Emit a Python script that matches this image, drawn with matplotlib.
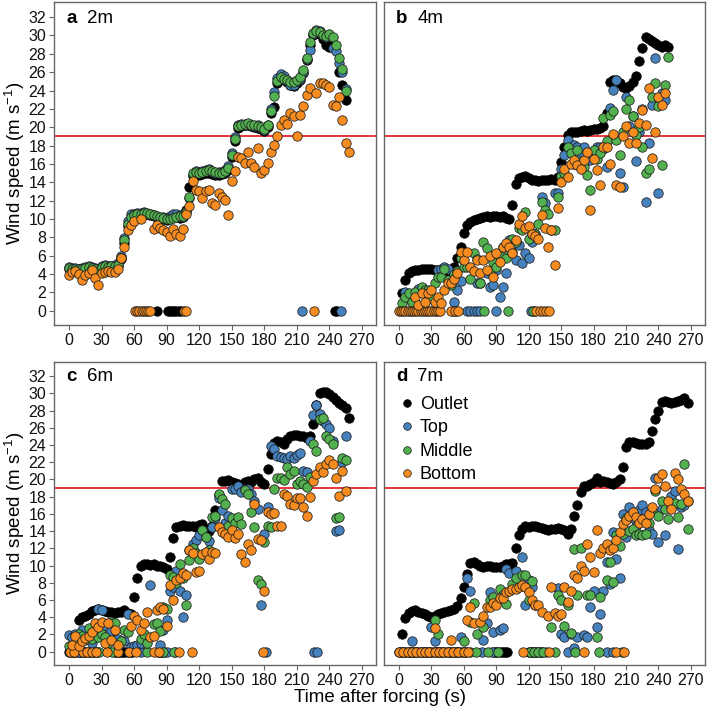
import numpy as np
import matplotlib
matplotlib.use("Agg")
import matplotlib.pyplot as plt
from matplotlib.lines import Line2D

plt.rcParams['font.family'] = ['Liberation Sans', 'DejaVu Sans']
plt.rcParams['mathtext.fontset'] = 'custom'
plt.rcParams['mathtext.rm'] = 'Liberation Sans'
plt.rcParams['mathtext.it'] = 'Liberation Sans:italic'
plt.rcParams['mathtext.bf'] = 'Liberation Sans:bold'

# ---------------- data ----------------
series_names = ['Outlet', 'Top', 'Middle', 'Bottom']
series_colors = ['#000000', '#4682be', '#52b04e', '#f68b1f']
panel_letters = ['a', 'b', 'c', 'd']
panel_heights = ['2m', '4m', '6m', '7m']
x_ticks = [0, 30, 60, 90, 120, 150, 180, 210, 240, 270]
y_ticks = [0, 2, 4, 6, 8, 10, 12, 14, 16, 18, 20, 22, 24, 26, 28, 30, 32]
threshold = 19
sample_step = 3  # seconds between samples in the value lists

# Panel a (2 m)
a_outlet = [4.5, 4.5, 4.4, 4.4, 4.5, 4.6, 4.7, 4.6, 4.5, 4.4,
            4.6, 4.8, 4.7, 4.8, 4.8, 4.9, 5.6, 7.4, 9.2, 10.0,
            10.2, 10.3, 10.5, 10.5, 10.5, 10.4, 10.3, None, 10.1, 10.0,
            9.9, None, None, None, 10.1, 10.2, 11.0, 13.5, 14.7, 14.9,
            14.8, 14.9, 15.0, 15.0, 14.9, 14.8, 14.8, 14.9, 15.0, 15.3,
            16.8, 18.5, 19.9, 20.1, 20.2, 20.3, 20.1, 20.0, 19.9, 19.8,
            19.6, 20.0, 21.6, 22.2, 24.8, 25.3, 25.1, 24.9, 24.6, 24.5,
            24.8, 25.2, 25.9, 27.3, 29.0, 30.0, 30.3, 30.2, 29.6, 29.0,
            28.8, 29.0, None, 26.0, 24.6, 23.0, None]
a_top = [4.8, 4.7, 4.7, 4.6, 4.7, 4.8, 4.9, 4.8, 4.7, 4.5,
         4.9, 5.0, 4.9, 4.9, 5.0, 5.2, 6.0, 7.9, 9.8, 10.5,
         10.6, 10.7, 10.7, 10.8, 10.6, 10.5, 10.4, 10.2, 10.1, 10.2,
         10.1, 10.3, 10.5, 10.6, 10.4, 10.2, 10.9, 12.3, 14.8, 15.2,
         15.1, 15.2, 15.3, 15.4, 15.1, 15.0, 15.1, 15.1, 15.3, 15.8,
         17.2, 18.9, 20.2, 20.4, 20.3, 20.4, 20.2, 20.1, 20.2, 19.9,
         19.7, 20.3, 22.0, 23.8, 25.4, 25.8, 25.6, 25.0, 24.6, 24.6,
         25.0, 25.3, 26.0, 27.4, 28.4, 30.2, 30.6, 30.5, 30.0, 29.8,
         29.9, 28.6, 28.3, 27.0, 26.0, 24.2, None]
a_middle = [4.7, 4.6, 4.6, 4.5, 4.6, 4.7, 4.8, 4.7, 4.6, 4.3,
            4.8, 4.9, 4.8, 4.9, 4.9, 5.0, 5.8, 7.7, 9.5, 10.2,
            10.4, 10.5, 10.6, 10.7, 10.7, 10.6, 10.4, 10.3, 10.2, 10.1,
            10.0, 10.0, 10.1, 10.2, 10.3, 10.3, 10.8, 12.4, 15.0, 15.1,
            15.0, 15.1, 15.2, 15.3, 15.2, 15.1, 15.0, 15.0, 15.2, 15.6,
            17.0, 18.7, 20.1, 20.3, 20.4, 20.5, 20.3, 20.2, 20.1, 20.0,
            19.8, 20.2, 21.8, 23.4, 25.0, 25.5, 25.3, 25.2, 24.9, 24.9,
            25.1, 25.5, 26.2, 27.5, 29.3, 30.3, 30.5, 30.4, 30.1, 29.9,
            30.2, 29.8, 29.0, 27.6, 26.3, 24.0, None]
a_bottom = [3.9, 4.2, 4.3, 4.0, 3.3, 3.9, 4.1, 4.4, 3.6, 2.8,
            4.1, 4.2, 4.3, 4.2, 4.2, 4.5, 5.8, 7.0, 8.8, 9.4,
            9.8, None, 10.0, None, None, None, 8.9, 9.4, 9.0, 8.8,
            8.6, 8.1, 8.9, 8.4, 8.1, 8.9, 10.6, 11.4, 14.1, 13.2,
            13.1, 12.3, 13.0, 13.2, 11.7, 11.5, 12.8, 12.4, 12.1, 10.4,
            14.1, 15.2, 16.8, 16.6, 16.1, 17.3, 16.1, 15.7, 17.7, 15.0,
            15.3, 16.1, 17.3, 18.1, 19.0, 20.3, 20.8, 20.4, 21.5, 21.2,
            19.0, 21.3, 22.3, 23.5, 24.3, None, 23.7, 24.8, 24.8, 24.6,
            24.4, 22.4, 22.3, 23.3, 20.8, 18.3, 17.3]
a_outlet_zero = [81, 91, 93, 95, 97, 99, 101, 103, 245, 247]
a_top_zero = [215, 251]
a_middle_zero = []
a_bottom_zero = [61, 63, 65, 67, 69, 71, 73, 75, 106, 108, 226]

# Panel b (4 m)
b_outlet = [None, 1.9, 3.3, 4.1, 4.3, 4.4, 4.4, 4.5, 4.6, 4.6,
            4.5, 4.4, 4.4, 4.3, 4.1, 3.9, 3.9, 4.8, 5.8, 7.0,
            8.5, 9.3, 9.7, 9.9, 10.0, 10.1, 10.2, 10.3, 10.2, 10.3,
            10.3, 10.2, 10.3, 10.1, 10.0, 11.5, 13.8, 14.5, 14.6, 14.7,
            14.5, 14.3, 14.2, 14.1, 14.3, 14.2, 14.3, 14.4, 14.3, 14.6,
            16.2, 17.9, 19.2, 19.5, 19.5, 19.5, 19.6, 19.7, 19.6, 19.7,
            19.8, 19.8, 19.9, 20.1, 21.5, 24.9, 25.2, 25.2, 24.8, 24.4,
            24.3, 24.5, 24.9, 25.6, 27.2, 28.6, 29.8, 29.6, 29.4, 29.2,
            29.0, 28.8, 29.0, 28.7]
b_top = [None, None, 2.1, 1.3, 1.5, 0.8, 2.4, 2.4, 1.9, 1.3,
         None, 1.2, 4.4, 4.6, 4.8, 4.6, None, 1.0, 2.3, 3.2,
         None, None, None, None, 3.0, 3.0, None, 4.1, 2.6, 2.8,
         4.4, 1.5, 2.6, 4.1, 7.7, 6.4, 5.5, 7.2, 5.2, 6.3,
         5.7, 7.5, 8.4, None, 12.4, 11.7, None, None, 12.8, 12.8,
         15.5, 17.0, 18.6, 17.5, 18.1, 17.9, 16.8, 17.9, 16.4, 16.4,
         17.0, 17.9, 17.9, 17.6, 15.7, 22.1, 24.1, 25.2, 15.0, 13.5,
         23.3, 20.1, 21.2, 16.3, 19.5, 22.0, 11.9, 18.3, 22.4, 27.5,
         12.8, 23.7, 23.0, None]
b_middle = [None, 0.8, 1.5, 1.9, 1.0, 2.0, None, 2.6, 2.3, 2.3,
            1.4, 3.0, 3.7, 3.7, 4.5, 3.3, 2.8, 4.0, 4.3, 5.8,
            4.8, 4.8, 3.5, 6.3, 5.6, 3.0, 7.5, 6.8, 4.3, 5.3,
            4.8, 6.0, 7.0, 5.8, 6.6, 7.8, 7.5, 9.0, 8.8, 10.8,
            7.8, 8.4, 8.4, 9.5, 11.9, 11.0, 10.6, 8.8, 8.8, 12.4,
            14.7, 15.0, 17.9, 17.2, 16.0, 17.5, 16.3, 15.7, 14.8, 13.2,
            17.5, 16.5, 17.2, 21.0, 18.5, 21.3, 21.8, 18.6, 17.0, 19.5,
            22.0, 23.0, 21.2, 19.2, 20.0, 17.9, 15.0, 15.4, 23.3, 24.8,
            22.3, 15.9, 24.6, 27.7]
b_bottom = [None, None, None, None, None, 1.5, 0.6, 1.9, 1.0, 1.9,
            2.3, 1.0, 1.5, 0.8, 2.3, 3.0, 3.0, 3.5, 4.1, 6.4,
            5.5, 6.4, 4.8, 4.3, 5.5, 4.1, 5.5, 4.4, 6.0, 3.7,
            6.3, 5.3, 6.9, 7.4, 7.0, 6.3, 7.7, 9.5, 10.3, 9.0,
            9.2, 8.4, 8.1, 7.8, 10.4, 9.0, 7.0, 8.8, 5.0, 11.2,
            14.0, 15.5, 14.6, 16.0, 16.4, 15.9, 15.4, 16.4, 17.3, 11.0,
            16.5, 15.3, 13.7, 17.9, 17.9, 16.0, 19.3, 13.7, 13.5, 19.0,
            20.1, 18.3, 19.5, 18.3, 20.5, 21.9, 20.3, 24.3, 16.6, 19.5,
            23.3, 22.4, 23.7, None]
b_outlet_zero = []
b_top_zero = [63, 66, 69, 72, 75, 90, 122, 125]
b_middle_zero = [50, 53, 79, 101, 124]
b_bottom_zero = [0, 2, 4, 6, 8, 10, 12, 14, 16, 18, 20, 22, 24, 26, 28,
                 30, 32, 34, 36, 38, 48, 52, 55, 127, 130, 133, 136, 139]

# Panel c (6 m)
c_outlet = [None, None, None, 3.7, 4.0, 4.2, 4.4, 4.7, 4.8, 4.9,
            4.8, 4.7, 4.6, 4.6, 4.5, 4.6, 4.6, 4.8, 4.5, 4.4,
            6.3, 8.5, 10.0, 10.2, 10.2, 10.1, 10.2, 10.0, 9.9, 9.8,
            9.6, 11.0, 13.2, 14.5, 14.6, 14.7, 14.6, 14.6, 14.6, 14.5,
            14.7, 14.8, 14.2, 14.0, 14.6, 16.5, 18.2, 19.8, 19.8, 19.9,
            19.7, 19.6, 19.5, 19.4, 19.7, 19.8, 19.7, 20.0, 20.2, 19.7,
            19.5, 21.2, 23.0, 24.2, 24.5, 24.3, 24.1, 24.7, 25.0, 25.2,
            25.2, 25.1, 25.0, 24.8, 25.0, 26.5, 28.7, 30.1, 30.2, 30.2,
            29.9, 29.6, 29.2, 28.9, 28.6, 28.3, 27.2]
c_top = [1.9, 1.7, 2.1, 1.0, 2.5, 1.5, None, 1.0, 2.0, 5.0,
         4.8, 3.0, 1.4, 2.4, 1.3, 1.5, None, 1.2, 4.4, 0.5,
         0.6, 0.8, 1.0, None, 1.6, 7.7, None, None, 0.8, 2.5,
         3.7, 7.1, 7.5, 9.4, 7.1, 4.0, 6.6, 11.8, 12.5, 13.0,
         13.5, 14.1, 13.3, 12.8, 14.5, 15.5, 17.9, 16.5, 15.0, 15.8,
         18.9, 18.9, 19.3, 18.5, 18.9, 18.9, 18.3, 17.5, 16.6, 5.4,
         13.7, 16.8, 23.9, 23.5, 22.7, 22.6, 22.5, 22.4, 22.7, 22.5,
         22.9, 23.1, 21.0, 20.9, 24.5, 27.5, 28.7, 27.6, 26.8, 26.4,
         26.0, 24.5, 14.0, 14.1, 22.0, 25.0, None]
c_middle = [0.6, None, 1.0, 2.0, 1.8, 1.3, 2.8, 1.5, 2.4, 1.7,
            2.1, 1.7, 1.0, 3.5, 3.3, None, 1.2, 2.5, 2.3, None,
            None, None, 1.5, 2.0, 1.0, None, 3.2, 3.3, 2.4, 5.2,
            5.0, 8.9, 8.7, 8.0, 10.2, 8.5, 5.4, 10.6, 12.1, 11.5,
            10.8, 14.1, 13.3, 11.8, 15.6, 15.8, 18.3, 17.7, 17.1, 14.6,
            15.5, 15.0, 15.6, 14.8, 18.8, 18.3, 16.2, 14.5, 8.3, 7.9,
            12.7, 14.6, 14.5, 18.9, 20.2, 20.2, 19.9, 21.4, 20.6, 21.0,
            19.5, 19.8, 19.5, 19.1, 20.3, 24.1, 23.3, 27.0, 27.2, 25.0,
            24.7, 24.1, 15.5, 15.6, 22.5, 22.3, None]
c_bottom = [None, 0.8, 1.8, 0.6, 1.2, 1.6, 1.8, 2.3, 3.3, 2.9,
            3.4, 1.0, 3.3, 1.3, 2.5, 0.8, None, None, None, 3.0,
            4.2, 3.7, 2.5, 3.3, 4.6, 1.7, 1.8, 4.8, 5.2, 5.0,
            3.0, 7.7, 6.0, 8.3, 8.5, 9.1, 8.9, 11.8, 11.5, 9.2,
            9.4, 11.4, 11.6, 10.8, 11.6, 11.5, 14.5, 13.9, 13.7, 13.3,
            14.1, 13.2, 13.7, 11.3, 10.4, 12.5, 11.8, 17.1, 13.1, 13.0,
            7.1, 16.2, 16.0, 16.1, 14.6, 14.6, 18.3, 18.1, 17.2, 17.0,
            17.9, 17.9, 16.8, 15.8, 18.0, 19.8, 20.6, 21.4, 20.9, 21.8,
            22.3, 21.8, 20.2, 18.1, 21.0, 18.7, None]
c_outlet_zero = [0, 2, 4, 6, 8, 10, 12, 14, 16, 18, 20, 22, 24, 26,
                 42, 44, 46, 48, 50, 52, 54, 56, 58, 82, 84, 86, 88]
c_top_zero = [9, 66, 90, 98, 182, 226, 229]
c_middle_zero = [3, 28, 40, 72, 87, 97]
c_bottom_zero = [1, 5, 13, 17, 21, 25, 35, 45, 55, 62, 78, 83, 101, 113, 179]

# Panel d (7 m)
d_outlet = [None, 2.1, 3.9, 4.5, 4.7, 4.8, 4.6, 4.5, 4.4, 4.2,
            4.0, 4.1, 4.4, 4.5, 4.6, 4.7, 4.8, 5.0, 5.3, 6.2,
            7.5, 9.0, 10.3, 10.4, 10.2, 10.0, 9.8, 9.9, 10.0, 9.8,
            9.8, 9.8, 10.0, 10.2, 10.2, 10.3, 12.0, 13.5, 14.3, 14.6,
            14.5, 14.6, 14.6, 14.5, 14.4, 14.3, 14.1, 14.2, 14.3, 14.4,
            14.2, 14.1, 13.7, 14.2, 15.8, 17.0, 18.5, 19.3, 19.3, 19.5,
            19.7, 20.2, 19.7, 19.8, 19.7, 19.6, 19.5, 19.7, 20.0, 21.5,
            23.8, 24.3, 24.3, 24.2, 24.1, 24.1, 24.1, 24.4, 25.6, 27.0,
            28.0, 29.0, 29.1, 29.0, 28.9, 29.0, 29.1, 29.2, 29.5, 28.9]
d_top = [None, None, None, None, 1.2, None, None, None, None, None,
         2.9, 1.2, None, None, None, None, None, None, None, 1.7,
         None, 8.5, 7.1, None, None, None, 1.3, 3.3, 6.9, 2.3,
         None, 2.5, 2.7, 9.6, 9.1, None, 9.4, None, 11.0, 5.4,
         8.3, 7.5, None, None, None, None, None, None, None, 7.4,
         2.1, 1.7, None, 2.1, 0.4, 1.7, None, 1.9, 1.7, 5.2,
         7.1, 2.9, 4.4, 7.1, 10.4, 7.9, 13.9, 10.8, 8.5, 16.0,
         13.3, 16.8, 15.5, 14.6, 16.5, 17.0, 16.2, 14.1, 13.7, 20.2,
         12.7, 16.6, 13.5, 17.0, 18.1, 18.7, 11.9, 16.8, 17.0, 17.5]
d_middle = [None, None, None, None, None, None, None, None, None, None,
            None, 3.7, 2.1, None, None, None, None, None, None, None,
            1.2, None, 3.5, 5.6, 2.1, None, 2.9, None, 6.0, 6.4,
            None, 7.3, 6.6, 5.5, None, 7.9, 8.5, None, 8.9, 8.9,
            6.0, 8.2, 5.4, None, None, None, None, 2.9, None, 6.6,
            6.0, 3.0, 5.4, 2.2, 11.9, 6.6, 12.1, None, 6.6, 6.6,
            None, 1.7, 6.4, None, 8.3, 10.4, 8.1, 13.5, 12.3, 13.7,
            15.5, 14.0, 14.3, 13.5, 13.7, 13.5, 13.7, 15.0, 16.5, 18.7,
            15.8, 17.5, 16.6, 15.4, 16.8, 17.3, 15.6, 17.1, 21.8, 14.3]
d_bottom = [None, None, None, None, None, None, None, None, None, None,
            None, 2.7, None, None, None, None, 1.3, None, None, None,
            None, 3.7, 5.2, 3.3, None, 3.5, 4.2, 5.2, 5.2, 5.6,
            5.4, 6.2, 6.2, 6.9, 7.1, 7.3, 7.3, 7.5, 7.7, 7.5,
            6.9, 6.0, 5.4, 5.4, 4.6, None, 4.2, 7.5, 4.5, 4.2,
            4.4, 7.5, 5.8, 7.0, 8.9, 8.5, 10.0, 9.4, 12.5, 11.0,
            9.2, 14.1, 11.5, 12.0, 12.5, 11.8, 12.1, 13.0, 13.9, 14.8,
            15.3, 15.8, 16.2, 15.6, 15.0, 15.4, 15.0, 16.0, 16.8, 18.9,
            20.2, 20.6, 19.3, 17.5, 16.6, 20.8, 20.0, 18.9, 18.3, 17.5]
d_outlet_zero = [0, 2, 4, 6, 8, 10, 12, 14, 16, 18, 20, 22, 24, 26, 28, 30,
                 32, 34, 36, 38, 40, 42, 44, 46, 48, 50, 52, 54, 56, 58, 60, 62,
                 88, 90, 92, 94, 96, 98, 100,
                 120, 122, 124, 126, 128, 130, 132]
d_top_zero = [77, 86, 136, 156, 192, 198]
d_middle_zero = [66, 71, 82, 92, 121, 125, 129, 133, 144, 163, 185, 206]
d_bottom_zero = [0, 4, 8, 12, 16, 20, 24, 28, 33, 37, 41, 45, 50, 55, 60, 64,
                 115, 139, 171, 201, 208]

panels = [
    ([a_outlet, a_top, a_middle, a_bottom],
     [a_outlet_zero, a_top_zero, a_middle_zero, a_bottom_zero]),
    ([b_outlet, b_top, b_middle, b_bottom],
     [b_outlet_zero, b_top_zero, b_middle_zero, b_bottom_zero]),
    ([c_outlet, c_top, c_middle, c_bottom],
     [c_outlet_zero, c_top_zero, c_middle_zero, c_bottom_zero]),
    ([d_outlet, d_top, d_middle, d_bottom],
     [d_outlet_zero, d_top_zero, d_middle_zero, d_bottom_zero]),
]

# ---------------- figure ----------------
W, H = 708, 709
fig = plt.figure(figsize=(W / 100, H / 100), dpi=100)

def px_axes(l, t, r, b):
    return fig.add_axes([l / W, 1 - b / H, (r - l) / W, (b - t) / H])

axes = [px_axes(54, 2, 376, 325), px_axes(384, 2, 705, 325),
        px_axes(54, 362, 376, 665), px_axes(384, 362, 705, 665)]

spine_col = '#666666'
for i, ax in enumerate(axes):
    vals_list, zeros_list = panels[i]
    ax.axhline(threshold, color='#e3262b', lw=1.3, zorder=1)
    for j in range(4):
        v = np.array(vals_list[j], dtype=float)
        t = np.arange(len(v)) * sample_step
        zt = np.array(zeros_list[j], dtype=float)
        xs = np.concatenate([zt, t])
        ys = np.concatenate([np.zeros(len(zt)), v])
        ec = '#000000' if j == 0 else '#1c1c1c'
        ax.scatter(xs, ys, s=46, c=series_colors[j], edgecolors=ec,
                   linewidths=0.55, zorder=2 + j)
    ax.set_xlim(-13.8, 283)
    ax.set_ylim(-1.55, 33.65)
    ax.set_xticks(x_ticks)
    ax.set_yticks(y_ticks)
    for s in ax.spines.values():
        s.set_color(spine_col)
        s.set_linewidth(1.0)
    ax.tick_params(axis='both', direction='out', length=3.6, width=0.8,
                   color=spine_col, labelsize=11.5, labelcolor='#111111', pad=2)
    if i in (1, 3):
        ax.tick_params(axis='y', left=False, labelleft=False)
    ty = 0.95 if i < 2 else 0.953
    ax.text(0.038, ty, panel_letters[i], transform=ax.transAxes,
            fontsize=13.5, fontweight='bold', va='center', ha='left')
    ax.text(0.104, ty, panel_heights[i], transform=ax.transAxes,
            fontsize=13.5, va='center', ha='left')

# legend in panel d
handles = [Line2D([], [], ls='', marker='o', markersize=5.5,
                  markerfacecolor=series_colors[k],
                  markeredgecolor='#000000' if k == 0 else '#1c1c1c',
                  markeredgewidth=0.5) for k in range(4)]
axes[3].legend(handles, series_names, loc='upper left',
               bbox_to_anchor=(0.044, 0.888), frameon=False, fontsize=13,
               handlelength=1.0, handletextpad=0.2, labelspacing=0.36,
               borderpad=0, borderaxespad=0)

fig.text(15 / W, 1 - 163.5 / H, r'Wind speed (m s$^{-1}$)', rotation=90,
         ha='center', va='center', fontsize=13.5)
fig.text(15 / W, 1 - 513.5 / H, r'Wind speed (m s$^{-1}$)', rotation=90,
         ha='center', va='center', fontsize=13.5)
fig.text(380 / W, 1 - 698 / H, 'Time after forcing (s)', ha='center',
         va='center', fontsize=13.5)

fig.savefig('out.png', dpi=100)
